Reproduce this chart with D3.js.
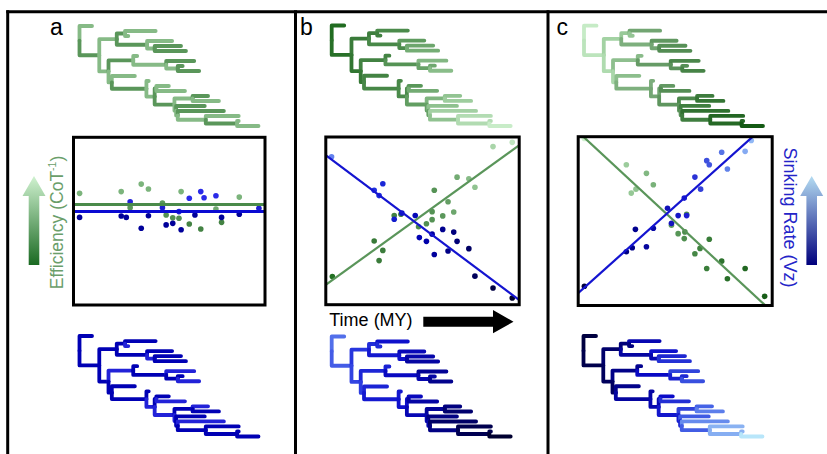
<!DOCTYPE html>
<html><head><meta charset="utf-8">
<script src="https://cdn.jsdelivr.net/npm/d3@7"></script>
<style>body{margin:0;background:#fff}svg{display:block}text{font-family:"Liberation Sans",Arial,sans-serif}</style>
</head><body>
<svg id="fig" width="827" height="454"></svg>
<script>
// ---------------- DATA ----------------
const panelLabels = ["a", "b", "c"];
const xAxisLabel = "Time (MY)";
const yLabelA = "Efficiency (CoT";
const yLabelA_sup = "-1";
const yLabelC = "Sinking Rate (Vz)";

// phylogeny topology with branch lengths (same tree in all six drawings)
const tree = {l:0, c:[
  {l:38},
  {l:60, c:[
    {l:53, c:[
      {l:25, c:[{l:93},{l:10}]},
      {l:92, c:[{l:76},{l:23, c:[{l:80},{l:95}]}]}
    ]},
    {l:28, c:[
      {l:75, c:[{l:12},{l:100, c:[{l:85},{l:35, c:[{l:15},{l:65}]}]}]},
      {l:10, c:[
        {l:70},
        {l:105, c:[
          {l:7},
          {l:25, c:[
            {l:5, c:[{l:38},{l:87}]},
            {l:60, c:[
              {l:55, c:[{l:47},{l:80}]},
              {l:5, c:[
                {l:87},
                {l:5, c:[
                  {l:140},
                  {l:85, c:[{l:100},{l:95, c:[{l:5},{l:65}]}]}
                ]}
              ]}
            ]}
          ]}
        ]}
      ]}
    ]}
  ]}
]};

// panel a: branch shades (0 = darker, 1 = lighter), pre-order
const treeShadeAGreen = [1,0,1,0,1,1,0,1,1,0,0,1,0,1,1,0,1,0,0,1,1,0,1,1,0,1,1,0,1,0,1,1,0,1,0,1,1,0,1,1];
const treeShadeABlue  = [0,0,0,0,0,1,0,0,1,0,0,0,1,0,0,1,0,0,1,0,0,0,0,1,0,0,1,1,0,1,0,1,0,0,1,0,0,0,0,0];

// scatter points [time, trait] on a 0-100 scale
const greenA = [[3.9,66.3],[25.3,67.3],[35.6,71.7],[39.3,68.8],[56.1,67.3],[86.0,64.1],[46.5,60.6],[29.9,57.9],[74.0,57.1],[48.4,53.6],[51.8,52.0],[55.0,51.7],[60.3,48.3],[66.2,45.4],[76.9,49.3]];
const greenAShade = [0,0,0,0,0,0,0.5,0.5,0.2,0.6,0.6,0.6,0.85,0.85,0.85];
const blueA = [[3.9,52.2],[25.3,53.0],[27.9,52.2],[29.9,61.4],[35.6,45.8],[39.3,53.2],[46.5,57.9],[48.4,47.8],[51.8,48.7],[55.0,55.6],[56.1,45.0],[60.3,63.4],[63.2,53.6],[66.2,67.3],[67.9,63.7],[74.0,64.9],[76.9,52.2],[86.0,54.0],[96.1,57.5]];
const blueAShade = [1,1,1,0.2,1,1,0.3,1,1,0.3,1,0,1,0,0,0,1,1,0.3];

const greenB = [[4.1,17.4],[25.4,38.2],[29.8,32.7],[27.9,26.7],[35.6,53.1],[39.0,53.9],[48.0,46.5],[52.0,48.3],[54.9,50.7],[54.9,55.4],[60.3,52.9],[56.0,67.9],[63.0,61.2],[65.9,55.2],[67.6,75.6],[73.6,74.7],[76.7,69.7],[85.9,93.5],[95.7,96.0]];
const blueB = [[3.7,87.5],[25.4,67.9],[29.8,71.7],[27.9,64.8],[35.6,50.9],[39.5,54.5],[46.3,53.1],[48.4,40.2],[52.0,38.0],[54.9,42.2],[56.0,30.3],[60.3,45.0],[63.0,32.3],[65.9,43.4],[67.6,38.0],[73.6,33.7],[76.7,17.6],[85.9,10.7],[95.7,4.8]];

const greenC = [[3.9,98.1],[25.2,82.8],[35.4,77.8],[30.1,68.6],[27.7,66.3],[38.9,71.2],[48.1,47.6],[51.5,42.7],[54.6,39.8],[54.9,43.7],[55.8,54.0],[67.3,39.4],[62.6,34.1],[60.0,31.0],[73.6,26.7],[66.0,22.4],[85.5,22.4],[76.5,16.4],[95.4,6.2]];
const blueC = [[3.9,12.1],[25.2,32.2],[28.2,34.5],[35.4,35.1],[29.8,45.2],[38.9,45.8],[46.1,57.5],[48.1,48.7],[51.5,53.2],[55.8,53.2],[54.6,63.4],[60.0,75.6],[62.9,68.6],[66.0,85.2],[67.3,82.8],[73.6,90.1],[76.5,80.3],[85.5,90.6],[88.6,96.9]];

// regression lines: trait value at time 0 and time 100
const greenLineA = [59.8, 59.8];
const blueLineA  = [55.6, 55.6];
const greenLineB = [11.9, 94.9];
const blueLineB  = [89.1, 2.9];
const greenLineC = [102.7, -3.6];
const blueLineC  = [7.3, 110.1];

// ---------------- DRAWING ----------------
const svg = d3.select("#fig");
const defs = svg.append("defs");

// outer frame
const frame = svg.append("g").attr("stroke", "#000").attr("stroke-width", 3);
frame.append("line").attr("x1", 6.3).attr("x2", 827).attr("y1", 11.7).attr("y2", 11.7);
[7.7, 295.5, 548].forEach(x => frame.append("line").attr("x1", x).attr("x2", x).attr("y1", 10.2).attr("y2", 454));

// panel letters
[[50, 35], [300, 35], [556.5, 35]].forEach((p, i) =>
  svg.append("text").attr("x", p[0]).attr("y", p[1]).attr("font-size", 23).attr("fill", "#000").text(panelLabels[i]));

function drawTree(rootX, y0, y1, colorFn) {
  const g = svg.append("g");
  const root = d3.hierarchy(tree, d => d.c);
  root.eachBefore(n => { n.dx = n.parent ? n.parent.dx + n.data.l : 0; });
  const leaves = root.leaves();
  leaves.forEach((n, i) => n.li = i);
  root.eachAfter(n => { n.yi = n.children ? (n.children[0].yi + n.children[n.children.length - 1].yi) / 2 : n.li; });
  const xs = d3.scaleLinear().domain([0, d3.max(leaves, d => d.dx)]).range([rootX, rootX + 179]);
  const ys = d3.scaleLinear().domain([0, leaves.length - 1]).range([y0, y1]);
  const links = [];
  root.eachBefore(n => { if (n.parent) links.push(n); });
  g.selectAll("path").data(links).join("path")
    .attr("d", n => `M${xs(n.parent.dx)},${ys(n.parent.yi)}V${ys(n.yi)}H${xs(n.dx)}`)
    .attr("fill", "none")
    .attr("stroke", (n, i) => colorFn(n, i))
    .attr("stroke-width", 3.8)
    .attr("stroke-linecap", "round")
    .attr("stroke-linejoin", "round");
}

const depthColor = (dom, cols) => d3.scaleLinear().domain(dom).range(cols).interpolate(d3.interpolateRgb).clamp(true);

// panel a trees
const aG = d3.interpolateRgb("#5a965a", "#86ba86");
const aB = d3.interpolateRgb("#0000b4", "#2222d8");
drawTree(79.5, 26, 126, (n, i) => aG(treeShadeAGreen[i]));
drawTree(79.5, 336, 436.5, (n, i) => aB(treeShadeABlue[i]));
// panel b trees
const bGc = depthColor([0, 120, 250, 360, 543], ["#146414", "#3c7c3c", "#4e8e4e", "#88bc88", "#c8ecc8"]);
const bBc = depthColor([0, 100, 250, 400, 543], ["#6a8ff0", "#2a3ae0", "#0a0ac8", "#00007a", "#000030"]);
drawTree(331.7, 25.5, 126, n => bGc(n.dx));
drawTree(331.7, 336.5, 436.5, n => bBc(n.dx));
// panel c trees
const cGc = depthColor([0, 120, 250, 400, 543], ["#d8f8d8", "#a0d0a0", "#6a9e6a", "#3a7a3a", "#145a14"]);
const cBc = depthColor([0, 150, 270, 400, 543], ["#00002a", "#000080", "#0a0ac8", "#4a6ae8", "#b8e6fa"]);
drawTree(584, 25.7, 126, n => cGc(n.dx));
drawTree(583.5, 336, 436.5, n => cBc(n.dx));

// scatter panels
function drawScatter(box, id, sets, lines, lw) {
  const x = d3.scaleLinear().domain([0, 100]).range([box.x - 1.5, box.x + box.w + 1.5]);
  const y = d3.scaleLinear().domain([0, 100]).range([box.y + box.h + 1.5, box.y - 1.5]);
  defs.append("clipPath").attr("id", id).append("rect")
    .attr("x", box.x).attr("y", box.y).attr("width", box.w).attr("height", box.h);
  const g = svg.append("g");
  const inner = g.append("g").attr("clip-path", `url(#${id})`);
  sets.forEach(s => {
    inner.append("g").selectAll("circle").data(s.pts).join("circle")
      .attr("cx", d => x(d[0])).attr("cy", d => y(d[1])).attr("r", 2.8)
      .attr("fill", (d, i) => s.color(d, i));
  });
  lines.forEach(l => {
    inner.append("line").attr("x1", x(0)).attr("y1", y(l.v[0])).attr("x2", x(100)).attr("y2", y(l.v[1]))
      .attr("stroke", l.color).attr("stroke-width", lw);
  });
  g.append("rect").attr("x", box.x).attr("y", box.y).attr("width", box.w).attr("height", box.h)
    .attr("fill", "none").attr("stroke", "#000").attr("stroke-width", 3);
}

const pAG = d3.interpolateRgb("#7cb47c", "#3a7a3a");
const pAB = d3.interpolateRgb("#2a2ae8", "#00009a");
drawScatter({x: 73.5, y: 137.3, w: 191.5, h: 167.7}, "clipA",
  [{pts: greenA, color: (d, i) => pAG(greenAShade[i])},
   {pts: blueA, color: (d, i) => pAB(blueAShade[i])}],
  [{v: greenLineA, color: "#4a8a4a"}, {v: blueLineA, color: "#0a0ad2"}], 3);

const pBG = depthColor([0, 30, 60, 80, 100], ["#1e6e1e", "#3c7c3c", "#5a965a", "#9ccc9c", "#c8ecc8"]);
const pBB = depthColor([0, 25, 50, 75, 100], ["#7090f0", "#2030e0", "#0000b0", "#000060", "#000020"]);
drawScatter({x: 325.8, y: 137, w: 193.4, h: 167.7}, "clipB",
  [{pts: greenB, color: d => pBG(d[0])}, {pts: blueB, color: d => pBB(d[0])}],
  [{v: greenLineB, color: "#5a955a"}, {v: blueLineB, color: "#1414d0"}], 2.2);

const pCG = depthColor([0, 30, 55, 75, 100], ["#d8f8d8", "#90c490", "#4e8e4e", "#2a702a", "#145a14"]);
const pCB = depthColor([0, 30, 55, 75, 100], ["#000030", "#000090", "#1a1ad0", "#5a7ae8", "#c0ecff"]);
drawScatter({x: 578.2, y: 136.7, w: 194, h: 168.8}, "clipC",
  [{pts: greenC, color: d => pCG(d[0])}, {pts: blueC, color: d => pCB(d[0])}],
  [{v: greenLineC, color: "#5a955a"}, {v: blueLineC, color: "#1414d0"}], 2.2);

// axis labels
const ta = svg.append("text").attr("transform", "translate(63,222.5) rotate(-90)")
  .attr("text-anchor", "middle").attr("font-size", 17.5).attr("fill", "#6a9e6a");
ta.append("tspan").text(yLabelA);
ta.append("tspan").attr("font-size", 10.5).attr("dy", -7).text(yLabelA_sup);
ta.append("tspan").attr("dy", 7).text(")");

svg.append("text").attr("transform", "translate(783.5,217.5) rotate(90)")
  .attr("text-anchor", "middle").attr("font-size", 18).attr("fill", "#2424c8").text(yLabelC);

svg.append("text").attr("x", 329.3).attr("y", 326).attr("font-size", 18).attr("fill", "#000").text(xAxisLabel);

// black time arrow
svg.append("path").attr("fill", "#000")
  .attr("d", "M423.3,316.7H493V310L513.5,321.7L493,333.3V326.7H423.3Z");

// gradient arrows
function gradArrow(id, top, bottom, cx) {
  const lg = defs.append("linearGradient").attr("id", id).attr("x1", 0).attr("y1", 0).attr("x2", 0).attr("y2", 1);
  lg.append("stop").attr("offset", 0).attr("stop-color", top);
  lg.append("stop").attr("offset", 1).attr("stop-color", bottom);
  svg.append("path").attr("fill", `url(#${id})`)
    .attr("d", `M${cx},176 L${cx + 11.5},196 H${cx + 5.3} V265 H${cx - 5.3} V196 H${cx - 11.5} Z`);
}
gradArrow("gA", "#d0f2d0", "#1a6a22", 34);
gradArrow("gC", "#b4dcf2", "#00007c", 811.7);
</script>
</body></html>
